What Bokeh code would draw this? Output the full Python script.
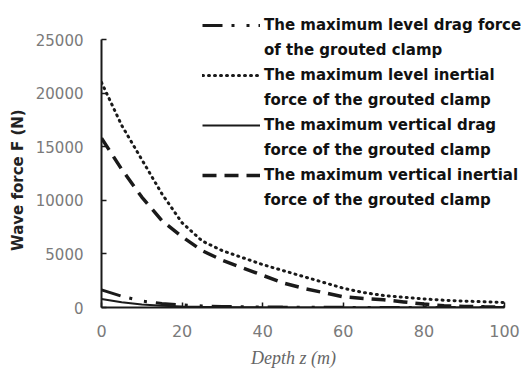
from bokeh.plotting import figure
from bokeh.models import Range1d, Legend, LegendItem, FixedTicker
from bokeh.embed import file_html
from bokeh.resources import INLINE

depth = [0, 5, 10, 15, 20, 25, 30, 35, 40, 45, 50, 55, 60, 65, 70, 75, 80, 85, 90, 95, 100]
level_drag = [1650, 1050, 600, 380, 240, 150, 100, 70, 50, 35, 25, 18, 13, 10, 8, 6, 5, 4, 3, 3, 2]
level_inertial = [21000, 17000, 13800, 10600, 7900, 6200, 5300, 4650, 4000, 3450, 2900, 2350,
                  1800, 1400, 1120, 950, 800, 680, 600, 530, 470]
vertical_drag = [800, 480, 270, 160, 100, 60, 40, 25, 15, 10, 7, 5, 4, 3, 2, 2, 1, 1, 1, 1, 1]
vertical_inertial = [15800, 12900, 10300, 8100, 6600, 5300, 4400, 3700, 3000, 2300, 1800, 1400,
                     1000, 850, 720, 520, 320, 170, 100, 60, 40]

x_ticks = [0, 20, 40, 60, 80, 100]
y_ticks = [0, 5000, 10000, 15000, 20000, 25000]

label_lines = [
    ("The maximum level drag force", "of the grouted clamp"),
    ("The maximum level inertial", "force of the grouted clamp"),
    ("The maximum vertical drag", "force of the grouted clamp"),
    ("The maximum vertical inertial", "force of the grouted clamp"),
]

# frame extends beyond the axes (top and right) so the legend, which sits
# partly outside the axes box, is not clipped
frame_h = 307
axis_top_px = 39
y_end = 25000 * frame_h / (frame_h - axis_top_px)
frame_w = 420
axis_w_px = 403
x_end = 100 * frame_w / axis_w_px

p = figure(width=521, height=376, output_backend="svg", toolbar_location=None,
           x_range=Range1d(0, x_end), y_range=Range1d(0, y_end), title=None,
           min_border_left=101, min_border_right=0, min_border_top=0, min_border_bottom=69)
p.outline_line_color = None
p.grid.grid_line_color = None
p.background_fill_color = "white"
p.border_fill_color = "white"

ink = "#1a1a1a"
r1 = p.line(depth, level_drag, line_color=ink, line_width=3, line_dash="20 9 3 12 3 9")
r2 = p.line(depth, level_inertial, line_color=ink, line_width=3, line_dash="1 5", line_cap="round")
r3 = p.line(depth, vertical_drag, line_color=ink, line_width=2)
r4 = p.line(depth, vertical_inertial, line_color=ink, line_width=3.5, line_dash="14 8")
blank = p.line(depth, vertical_drag, line_alpha=0)

for ax in (p.xaxis[0], p.yaxis[0]):
    ax.axis_line_color = ink
    ax.axis_line_width = 2
    ax.major_tick_line_color = ink
    ax.major_tick_line_width = 1.5
    ax.major_tick_in = 5
    ax.major_tick_out = 0
    ax.minor_tick_line_color = None
    ax.major_label_text_color = "#7a7a7a"
    ax.major_label_text_font = "DejaVu Sans"

p.yaxis.bounds = (0, 25000)
p.xaxis.bounds = (0, 100)
p.xaxis.ticker = FixedTicker(ticks=x_ticks)
p.yaxis.ticker = FixedTicker(ticks=y_ticks)
p.xaxis.major_label_text_font_size = "16px"
p.yaxis.major_label_text_font_size = "15px"
p.xaxis.major_label_standoff = 17
p.yaxis.major_label_standoff = 18

p.yaxis.axis_label = "Wave force F (N)" + "\u00a0" * 10
p.yaxis.axis_label_text_font = "DejaVu Sans"
p.yaxis.axis_label_text_font_style = "bold"
p.yaxis.axis_label_text_font_size = "15px"
p.yaxis.axis_label_text_color = "#222222"
p.yaxis.axis_label_standoff = 6

p.xaxis.axis_label = "Depth z (m)" + "\u00a0" * 8
p.xaxis.axis_label_text_font = "Liberation Serif"
p.xaxis.axis_label_text_font_style = "italic"
p.xaxis.axis_label_text_font_size = "18px"
p.xaxis.axis_label_text_color = "#666666"
p.xaxis.axis_label_standoff = 8

items = []
for rend, (first, second) in zip([r1, r2, r3, r4], label_lines):
    items.append(LegendItem(label=first, renderers=[rend]))
    items.append(LegendItem(label=second, renderers=[blank]))

legend = Legend(items=items, location=(101, 97))
legend.glyph_width = 58
legend.glyph_height = 20
legend.label_height = 20
legend.label_standoff = 4
legend.spacing = 5
legend.padding = 0
legend.margin = 0
legend.border_line_color = None
legend.background_fill_alpha = 0
legend.label_text_font = "DejaVu Sans"
legend.label_text_font_style = "bold"
legend.label_text_font_size = "15px"
legend.label_text_color = "#111111"
p.add_layout(legend)

open("out.html", "w").write(file_html(p, INLINE))
